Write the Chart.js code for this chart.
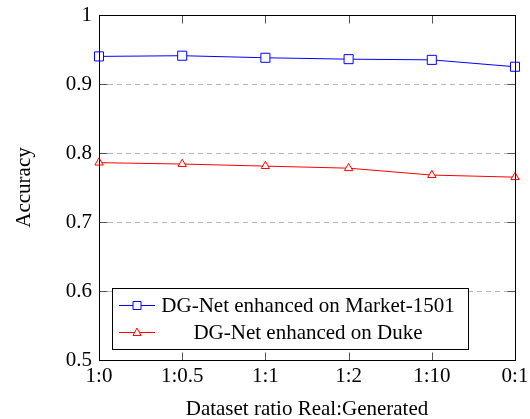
<!DOCTYPE html>
<html>
<head>
<meta charset="utf-8">
<script src="https://cdn.jsdelivr.net/npm/chart.js@4"></script>
<style>
  html, body { margin: 0; padding: 0; background: #fff; }
  #wrap { width: 530px; height: 419px; }
</style>
</head>
<body>
<div id="wrap"><canvas id="accChart" width="530" height="419"></canvas></div>
<script>
// Data
const ratios = ["1:0", "1:0.5", "1:1", "1:2", "1:10", "0:1"];
const marketAcc = [0.940, 0.941, 0.938, 0.936, 0.935, 0.925];
const dukeAcc = [0.786, 0.784, 0.781, 0.778, 0.768, 0.765];
const seriesNames = ["DG-Net enhanced on Market-1501", "DG-Net enhanced on Duke"];
const yMin = 0.5;
const yMax = 1;
const yStep = 0.1;

const FONT = "'Liberation Serif', 'Times New Roman', serif";

// Dashed grid, frame and inward ticks (pgfplots look)
const framePlugin = {
  id: "frame",
  beforeDatasetsDraw(chart) {
    const { ctx, chartArea: a, scales } = chart;
    const y = scales.y;
    ctx.save();
    ctx.strokeStyle = "#b5b5b5";
    ctx.lineWidth = 1;
    ctx.setLineDash([5, 4]);
    y.ticks.forEach((t) => {
      if (t.value <= yMin + 1e-9 || t.value >= yMax - 1e-9) return;
      const py = Math.round(y.getPixelForValue(t.value)) + 0.5;
      ctx.beginPath();
      ctx.moveTo(a.left, py);
      ctx.lineTo(a.right, py);
      ctx.stroke();
    });
    ctx.restore();
  },
  afterDatasetsDraw(chart) {
    const { ctx, chartArea: a, scales } = chart;
    const x = scales.x;
    const y = scales.y;
    const L = Math.round(a.left) + 0.5;
    const R = Math.round(a.right) + 0.5;
    const T = Math.round(a.top) + 0.5;
    const B = Math.round(a.bottom) + 0.5;
    ctx.save();
    ctx.setLineDash([]);
    // inward ticks
    ctx.strokeStyle = "#555";
    ctx.lineWidth = 1;
    ctx.beginPath();
    x.ticks.forEach((t, i) => {
      const px = Math.round(x.getPixelForTick(i)) + 0.5;
      ctx.moveTo(px, B);
      ctx.lineTo(px, B - 8);
      ctx.moveTo(px, T);
      ctx.lineTo(px, T + 8);
    });
    y.ticks.forEach((t) => {
      const py = Math.round(y.getPixelForValue(t.value)) + 0.5;
      ctx.moveTo(L, py);
      ctx.lineTo(L + 8, py);
      ctx.moveTo(R, py);
      ctx.lineTo(R - 8, py);
    });
    ctx.stroke();
    // frame
    ctx.strokeStyle = "#000";
    ctx.strokeRect(L, T, R - L, B - T);
    ctx.restore();
  },
};

// Legend box in the lower-left of the plot
function drawMarker(ctx, style, cx, cy, color) {
  ctx.save();
  ctx.strokeStyle = color;
  ctx.fillStyle = "#fff";
  ctx.lineWidth = 1;
  ctx.beginPath();
  if (style === "rect") {
    ctx.rect(cx - 4, cy - 4, 8, 8);
  } else {
    ctx.moveTo(cx, cy - 4.5);
    ctx.lineTo(cx + 4, cy + 3);
    ctx.lineTo(cx - 4, cy + 3);
    ctx.closePath();
  }
  ctx.fill();
  ctx.stroke();
  ctx.restore();
}

const legendPlugin = {
  id: "boxLegend",
  afterDraw(chart) {
    const { ctx } = chart;
    const bx = 112.5, by = 288.5, bw = 356, bh = 61;
    ctx.save();
    ctx.fillStyle = "#fff";
    ctx.fillRect(bx, by, bw, bh);
    ctx.strokeStyle = "#000";
    ctx.lineWidth = 1;
    ctx.strokeRect(bx, by, bw, bh);
    const rows = [305, 332];
    chart.data.datasets.forEach((ds, i) => {
      const ry = rows[i] + 0.5;
      ctx.strokeStyle = ds.borderColor;
      ctx.beginPath();
      ctx.moveTo(119, ry);
      ctx.lineTo(155, ry);
      ctx.stroke();
      drawMarker(ctx, ds.pointStyle, 137, ry, ds.borderColor);
      ctx.fillStyle = "#000";
      ctx.font = "21px " + FONT;
      ctx.textAlign = "center";
      ctx.textBaseline = "middle";
      ctx.fillText(ds.label, 308, rows[i] + 1);
    });
    ctx.restore();
  },
};

new Chart(document.getElementById("accChart").getContext("2d"), {
  type: "line",
  data: {
    labels: ratios,
    datasets: [
      {
        label: seriesNames[0],
        data: marketAcc,
        borderColor: "#0000ff",
        backgroundColor: "#fff",
        borderWidth: 1,
        pointStyle: "rect",
        pointRadius: 6.4,
        pointBorderWidth: 1,
        pointBackgroundColor: "#fff",
        tension: 0,
      },
      {
        label: seriesNames[1],
        data: dukeAcc,
        borderColor: "#ff0000",
        backgroundColor: "#fff",
        borderWidth: 1,
        pointStyle: "triangle",
        pointRadius: 4.8,
        pointBorderWidth: 1,
        pointBackgroundColor: "#fff",
        tension: 0,
      },
    ],
  },
  options: {
    responsive: false,
    animation: false,
    layout: { padding: { top: 15, right: 15, left: 0, bottom: 0 } },
    scales: {
      x: {
        type: "category",
        offset: false,
        grid: { display: false, drawTicks: false },
        border: { display: false },
        ticks: { color: "#000", font: { family: FONT, size: 21 }, padding: 4, maxRotation: 0 },
        title: {
          display: true,
          text: "Dataset ratio Real:Generated",
          color: "#000",
          font: { family: FONT, size: 21, lineHeight: 0.86 },
          padding: { top: 0, bottom: 0 },
        },
        afterFit(scale) {
          scale.height = 59;
          scale.paddingLeft = 0;
          scale.paddingRight = 0;
        },
      },
      y: {
        min: yMin,
        max: yMax,
        grid: { display: false, drawTicks: false },
        border: { display: false },
        ticks: {
          stepSize: yStep,
          color: "#000",
          font: { family: FONT, size: 21 },
          padding: 7,
          callback: (v) => String(Number(v.toFixed(1))),
        },
        title: {
          display: true,
          text: "Accuracy",
          color: "#000",
          font: { family: FONT, size: 21, lineHeight: 1.15 },
          padding: { top: 12, bottom: 0 },
        },
        afterFit(scale) {
          scale.width = 99;
          scale.paddingTop = 0;
          scale.paddingBottom = 0;
        },
      },
    },
    plugins: {
      legend: { display: false },
      tooltip: { enabled: false },
    },
  },
  plugins: [framePlugin, legendPlugin],
});
</script>
</body>
</html>
